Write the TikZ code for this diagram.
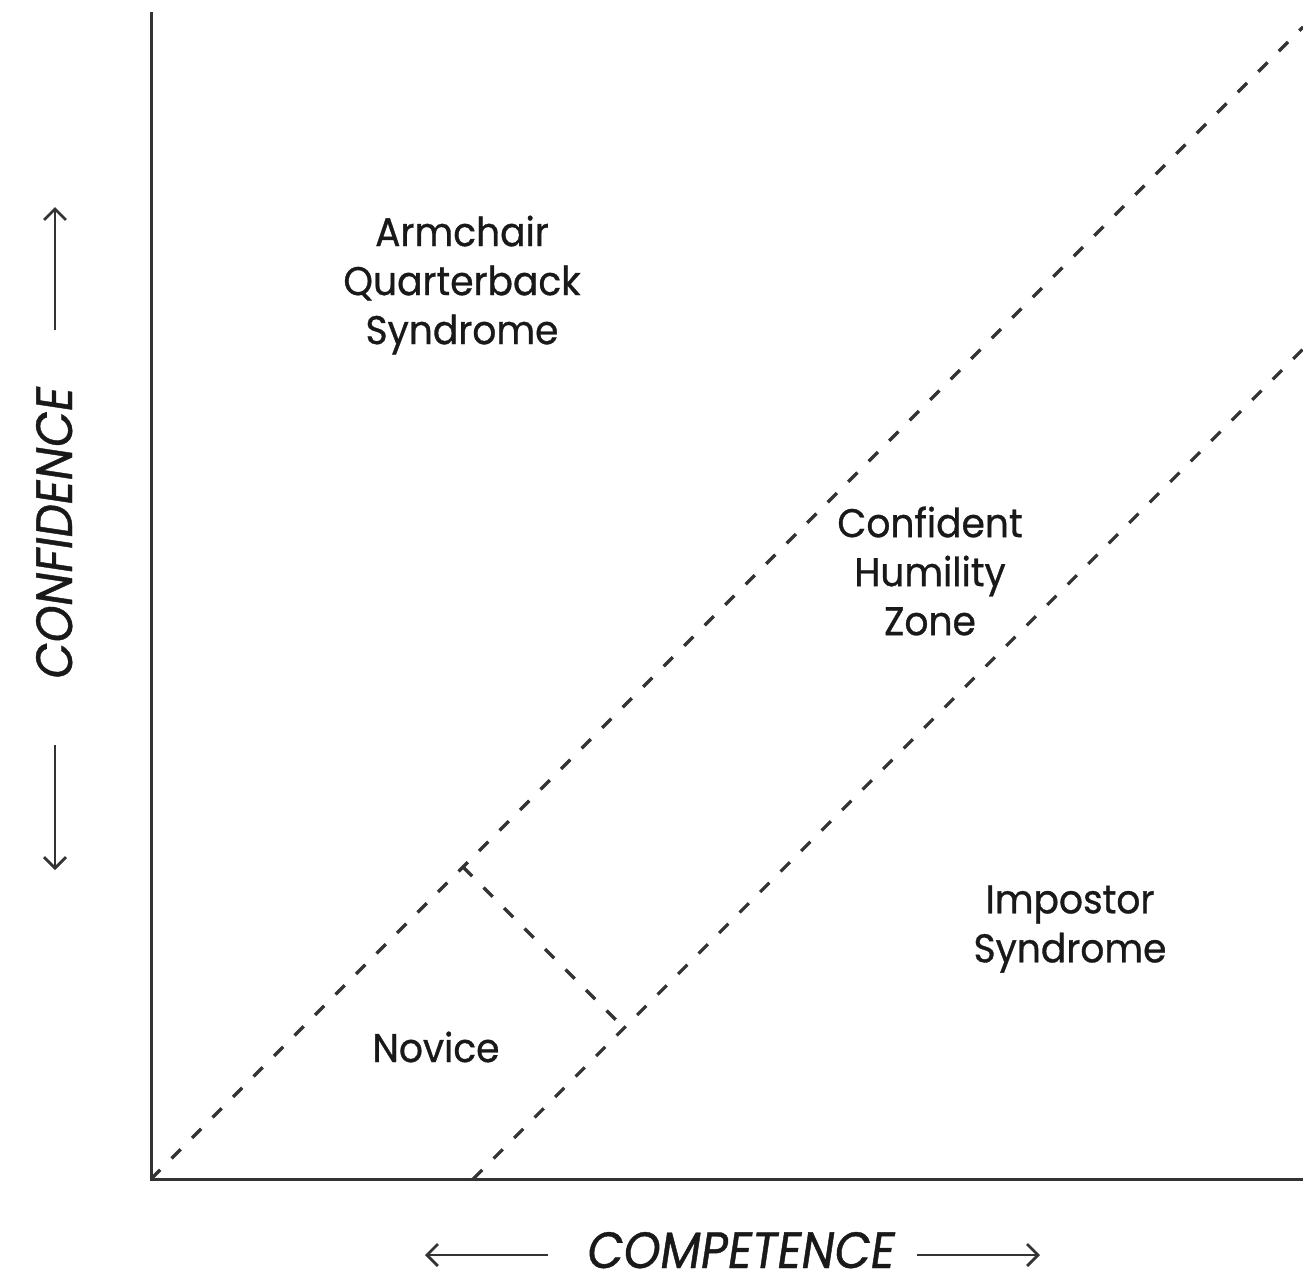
\documentclass[tikz,border=0pt]{standalone}
\usepackage{fontspec}
\setmainfont{Poppins}[FakeStretch=0.94,FakeBold=0.8]
\newfontfamily\axisfont{Poppins}[FakeStretch=0.92,FakeSlant=0.15,FakeBold=0.8]
\usetikzlibrary{arrows.meta}
\begin{document}
\begin{tikzpicture}[x=0.5pt,y=-0.5pt,
  axisline/.style={line width=1.5pt,draw=black!80},
  dline/.style={line width=1.6pt,draw=black!80,dash pattern=on 6.5pt off 8pt},
  lbl/.style={font=\fontsize{20}{24.5}\selectfont,align=center,text=black!90,inner sep=0pt},
  axlbl/.style={font=\axisfont\fontsize{25.5}{30}\selectfont,text=black!90,inner sep=0pt},
  axarrow/.style={line width=1.4pt,draw=black!80,-{Straight Barb[length=5.5pt,width=11pt]}}]
\useasboundingbox (0,0) rectangle (1303,1280);
% axes
\coordinate (O) at (151,1179);
\coordinate (ytop) at (151,12);
\coordinate (xend) at (1303,1179);
\draw[axisline] (ytop) -- (O) -- (xend);
% diagonals
\coordinate (uend) at (1303,27);
\coordinate (lstart) at (473,1179);
\coordinate (lend) at (1303,349);
\coordinate (p1) at (463,867);
\coordinate (p2) at (624,1028);
\draw[dline] (O) -- (uend);
\draw[dline] (lstart) -- (lend);
\draw[dline] (p1) -- (p2);
% region labels
\node[lbl] (aqs) at (462,285) {Armchair\\Quarterback\\Syndrome};
\node[lbl] (chz) at (930,571) {Confident\\Humility\\Zone};
\node[lbl] (imp) at (1070,929) {Impostor\\Syndrome};
\node[lbl,anchor=base] (nov) at (436,1062) {Novice};
% axis labels
\node[axlbl,anchor=base] (comp) at (739,1268) {COMPETENCE};
\node[axlbl,anchor=base,rotate=90] (conf) at (72,535) {CONFIDENCE};
% axis arrows
\coordinate (la1) at (548,1255); \coordinate (la2) at (425,1255);
\coordinate (ra1) at (917,1255); \coordinate (ra2) at (1040,1255);
\coordinate (ua1) at (55,330); \coordinate (ua2) at (55,207);
\coordinate (da1) at (55,745); \coordinate (da2) at (55,870);
\draw[axarrow] (la1) -- (la2);
\draw[axarrow] (ra1) -- (ra2);
\draw[axarrow] (ua1) -- (ua2);
\draw[axarrow] (da1) -- (da2);
\end{tikzpicture}
\end{document}
